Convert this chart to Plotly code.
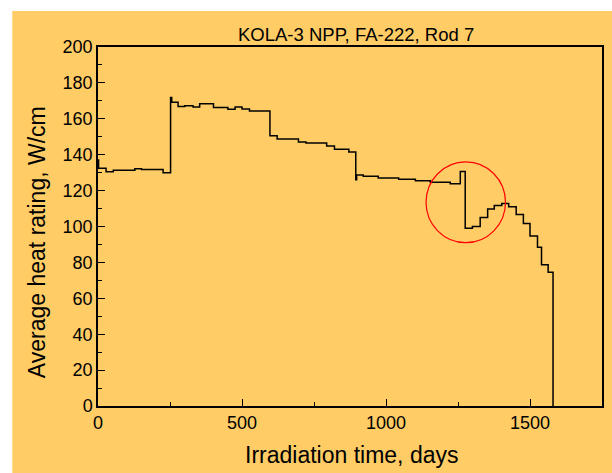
import plotly.graph_objects as go

# Step start times (days) and heat rating values (W/cm)
days = [0, 2, 28, 53, 128, 151, 226, 252, 256, 278, 301, 330, 353, 401, 451, 476, 500, 526,
        597, 622, 696, 722, 794, 821, 871, 895, 898, 921, 973, 1044, 1102, 1154, 1223, 1258,
        1275, 1300, 1327, 1353, 1376, 1402, 1426, 1452, 1477, 1500, 1526, 1540, 1563, 1580]
rating = [137, 132.4, 130.5, 131.3, 132.2, 131.7, 130.0, 171.8, 169.2, 166.8, 167.3, 166.6, 168.4,
          166.3, 165.3, 166.6, 165.5, 164.3, 150.6, 148.8, 147.1, 146.5, 144.8, 143.0, 141.5,
          126.0, 128.7, 128.0, 127.0, 126.3, 125.5, 124.7, 123.8, 130.7, 99.0, 100.0, 105.0,
          109.7, 111.7, 112.8, 111.0, 106.7, 101.7, 94.7, 88.4, 78.7, 74.5, 0]

# highlight circle (data units)
circle_x = [1139, 1415]
circle_y = [91, 136]

title_text = "KOLA-3 NPP, FA-222, Rod 7"
x_title = "Irradiation time, days"
y_title = "Average heat rating, W/cm"

ORANGE = "#FFCC66"
FONT = "Liberation Sans, Arial, sans-serif"

fig = go.Figure()
fig.add_trace(go.Scatter(x=days, y=rating, mode="lines", line_shape="hv",
                         line=dict(color="black", width=1.5), showlegend=False,
                         hoverinfo="skip"))

fig.add_shape(type="rect", xref="paper", yref="paper", x0=-0.17, x1=1.05, y0=-0.2, y1=1.1003,
              fillcolor=ORANGE, line=dict(width=0), layer="below")
fig.add_shape(type="circle", xref="x", yref="y", x0=circle_x[0], x1=circle_x[1],
              y0=circle_y[0], y1=circle_y[1], line=dict(color="red", width=1.2))

fig.add_annotation(text=title_text, xref="paper", yref="paper", x=0.512, y=1.036,
                   xanchor="center", yanchor="middle", showarrow=False,
                   font=dict(family=FONT, size=18.5, color="black"))
fig.add_annotation(text=x_title, xref="paper", yref="paper", x=0.503, y=-0.1365,
                   xanchor="center", yanchor="middle", showarrow=False,
                   font=dict(family=FONT, size=23, color="black"))
fig.add_annotation(text=y_title, xref="paper", yref="paper", x=-0.1206, y=0.457,
                   xanchor="center", yanchor="middle", showarrow=False, textangle=-90,
                   font=dict(family=FONT, size=23, color="black"))

axis_common = dict(showline=True, linecolor="black", linewidth=1.5, mirror=True,
                   ticks="inside", ticklen=7, tickwidth=1, tickcolor="black",
                   showgrid=False, zeroline=False,
                   tickfont=dict(family=FONT, size=18, color="black"))

fig.update_xaxes(range=[0, 1750], tickvals=[0, 500, 1000, 1500],
                 minor=dict(ticks="inside", ticklen=4, dtick=250, tick0=0, tickcolor="black"),
                 **axis_common)
fig.update_yaxes(range=[0, 200], dtick=20, tick0=0,
                 minor=dict(ticks="inside", ticklen=4, dtick=10, tick0=0, tickcolor="black"),
                 **axis_common)

fig.update_layout(width=612, height=473, margin=dict(l=98, r=8, t=47, b=67),
                  paper_bgcolor="white", plot_bgcolor="rgba(0,0,0,0)",
                  font=dict(family=FONT, color="black"))

fig.write_html("out.html")
